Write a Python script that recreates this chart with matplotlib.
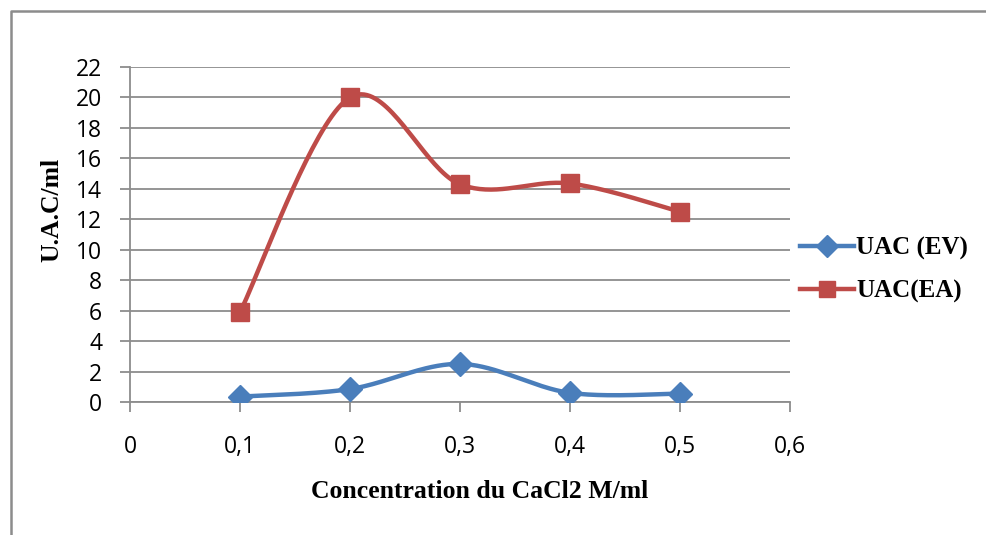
import numpy as np
import matplotlib
matplotlib.use("Agg")
import matplotlib.pyplot as plt
from matplotlib.lines import Line2D

# Data
concentration = [0.1, 0.2, 0.3, 0.4, 0.5]
uac_ev = [0.35, 0.85, 2.5, 0.6, 0.55]
uac_ea = [5.9, 20.0, 14.3, 14.35, 12.5]
series_names = ["UAC (EV)", "UAC(EA)"]
x_ticks = [0, 0.1, 0.2, 0.3, 0.4, 0.5, 0.6]
x_tick_labels = ["0", "0,1", "0,2", "0,3", "0,4", "0,5", "0,6"]
y_ticks = list(range(0, 23, 2))
x_label = "Concentration du CaCl2 M/ml"
y_label = "U.A.C/ml"

BLUE = "#4A7EBB"
RED = "#BE4B48"
SERIF = ["Liberation Serif", "DejaVu Serif"]


def excel_smooth(xs, ys, n=40):
    """Bezier smoothing similar to spreadsheet 'smoothed line'."""
    xs = np.asarray(xs, float)
    ys = np.asarray(ys, float)
    px = np.concatenate([[xs[0]], xs, [xs[-1]]])
    py = np.concatenate([[ys[0]], ys, [ys[-1]]])
    outx, outy = [], []
    t = np.linspace(0, 1, n)
    for i in range(1, len(px) - 2):
        p0 = np.array([px[i], py[i]])
        p3 = np.array([px[i + 1], py[i + 1]])
        c1 = p0 + (np.array([px[i + 1], py[i + 1]]) - np.array([px[i - 1], py[i - 1]])) / 6
        c2 = p3 - (np.array([px[i + 2], py[i + 2]]) - np.array([px[i], py[i]])) / 6
        bx = (1 - t) ** 3 * p0[0] + 3 * (1 - t) ** 2 * t * c1[0] + 3 * (1 - t) * t ** 2 * c2[0] + t ** 3 * p3[0]
        by = (1 - t) ** 3 * p0[1] + 3 * (1 - t) ** 2 * t * c1[1] + 3 * (1 - t) * t ** 2 * c2[1] + t ** 3 * p3[1]
        outx.extend(bx)
        outy.extend(by)
    return np.array(outx), np.array(outy)


fig = plt.figure(figsize=(9.86, 5.35), dpi=100)
fig.patch.set_facecolor("white")

# outer chart frame (only left and top edges visible)
fx = 11 / 986
fy = 1 - 11 / 535
fig.add_artist(Line2D([fx, fx, 1.0], [0.0, fy, fy], transform=fig.transFigure,
                      color="#8C8C8C", linewidth=1.8))

ax = fig.add_axes([130 / 986, (535 - 402) / 535, (790 - 130) / 986, (402 - 67) / 535])

for xs_, ys_, color, marker, ms, name in [
    (concentration, uac_ev, BLUE, "D", 12, series_names[0]),
    (concentration, uac_ea, RED, "s", 13, series_names[1]),
]:
    sx, sy = excel_smooth(xs_, ys_)
    ax.plot(sx, sy, color=color, linewidth=3.2, solid_capstyle="round", zorder=3)
    ax.plot(xs_, ys_, linestyle="none", marker=marker, markersize=ms,
            color=color, markeredgecolor=color, zorder=4)

ax.set_xlim(0, 0.6)
ax.set_ylim(0, 22)
ax.set_xticks(x_ticks)
ax.set_xticklabels(x_tick_labels)
ax.set_yticks(y_ticks)
ax.yaxis.grid(True, color="#8C8C8C", linewidth=1.3)
ax.set_axisbelow(True)

for s in ["top", "right"]:
    ax.spines[s].set_visible(False)
for s in ["left", "bottom"]:
    ax.spines[s].set_color("#8C8C8C")
    ax.spines[s].set_linewidth(1.3)

ax.tick_params(axis="both", direction="out", length=7, width=1.3, color="#8C8C8C",
               labelsize=16.5)
ax.tick_params(axis="x", pad=17)
ax.tick_params(axis="y", pad=13)
for lab in ax.get_xticklabels() + ax.get_yticklabels():
    lab.set_fontfamily(["Open Sans", "DejaVu Sans"])

fig.text(480 / 986, 1 - 492 / 535, x_label, ha="center", va="center",
         fontsize=18.5, fontweight="bold", family=SERIF)
fig.text(52 / 986, 1 - 210 / 535, y_label, ha="center", va="center", rotation=90,
         fontsize=18.5, fontweight="bold", family=SERIF)

handles = [
    Line2D([], [], color=BLUE, linewidth=3.2, marker="D", markersize=11),
    Line2D([], [], color=RED, linewidth=3.2, marker="s", markersize=12),
]
fig.legend(handles, series_names, loc="center left",
           bbox_to_anchor=(800 / 986, 1 - 270 / 535), frameon=False,
           prop={"family": SERIF, "weight": "bold", "size": 18},
           handlelength=2.15, handletextpad=0.1, labelspacing=0.8,
           borderaxespad=0, borderpad=0)

fig.savefig("out.png", dpi=100)
